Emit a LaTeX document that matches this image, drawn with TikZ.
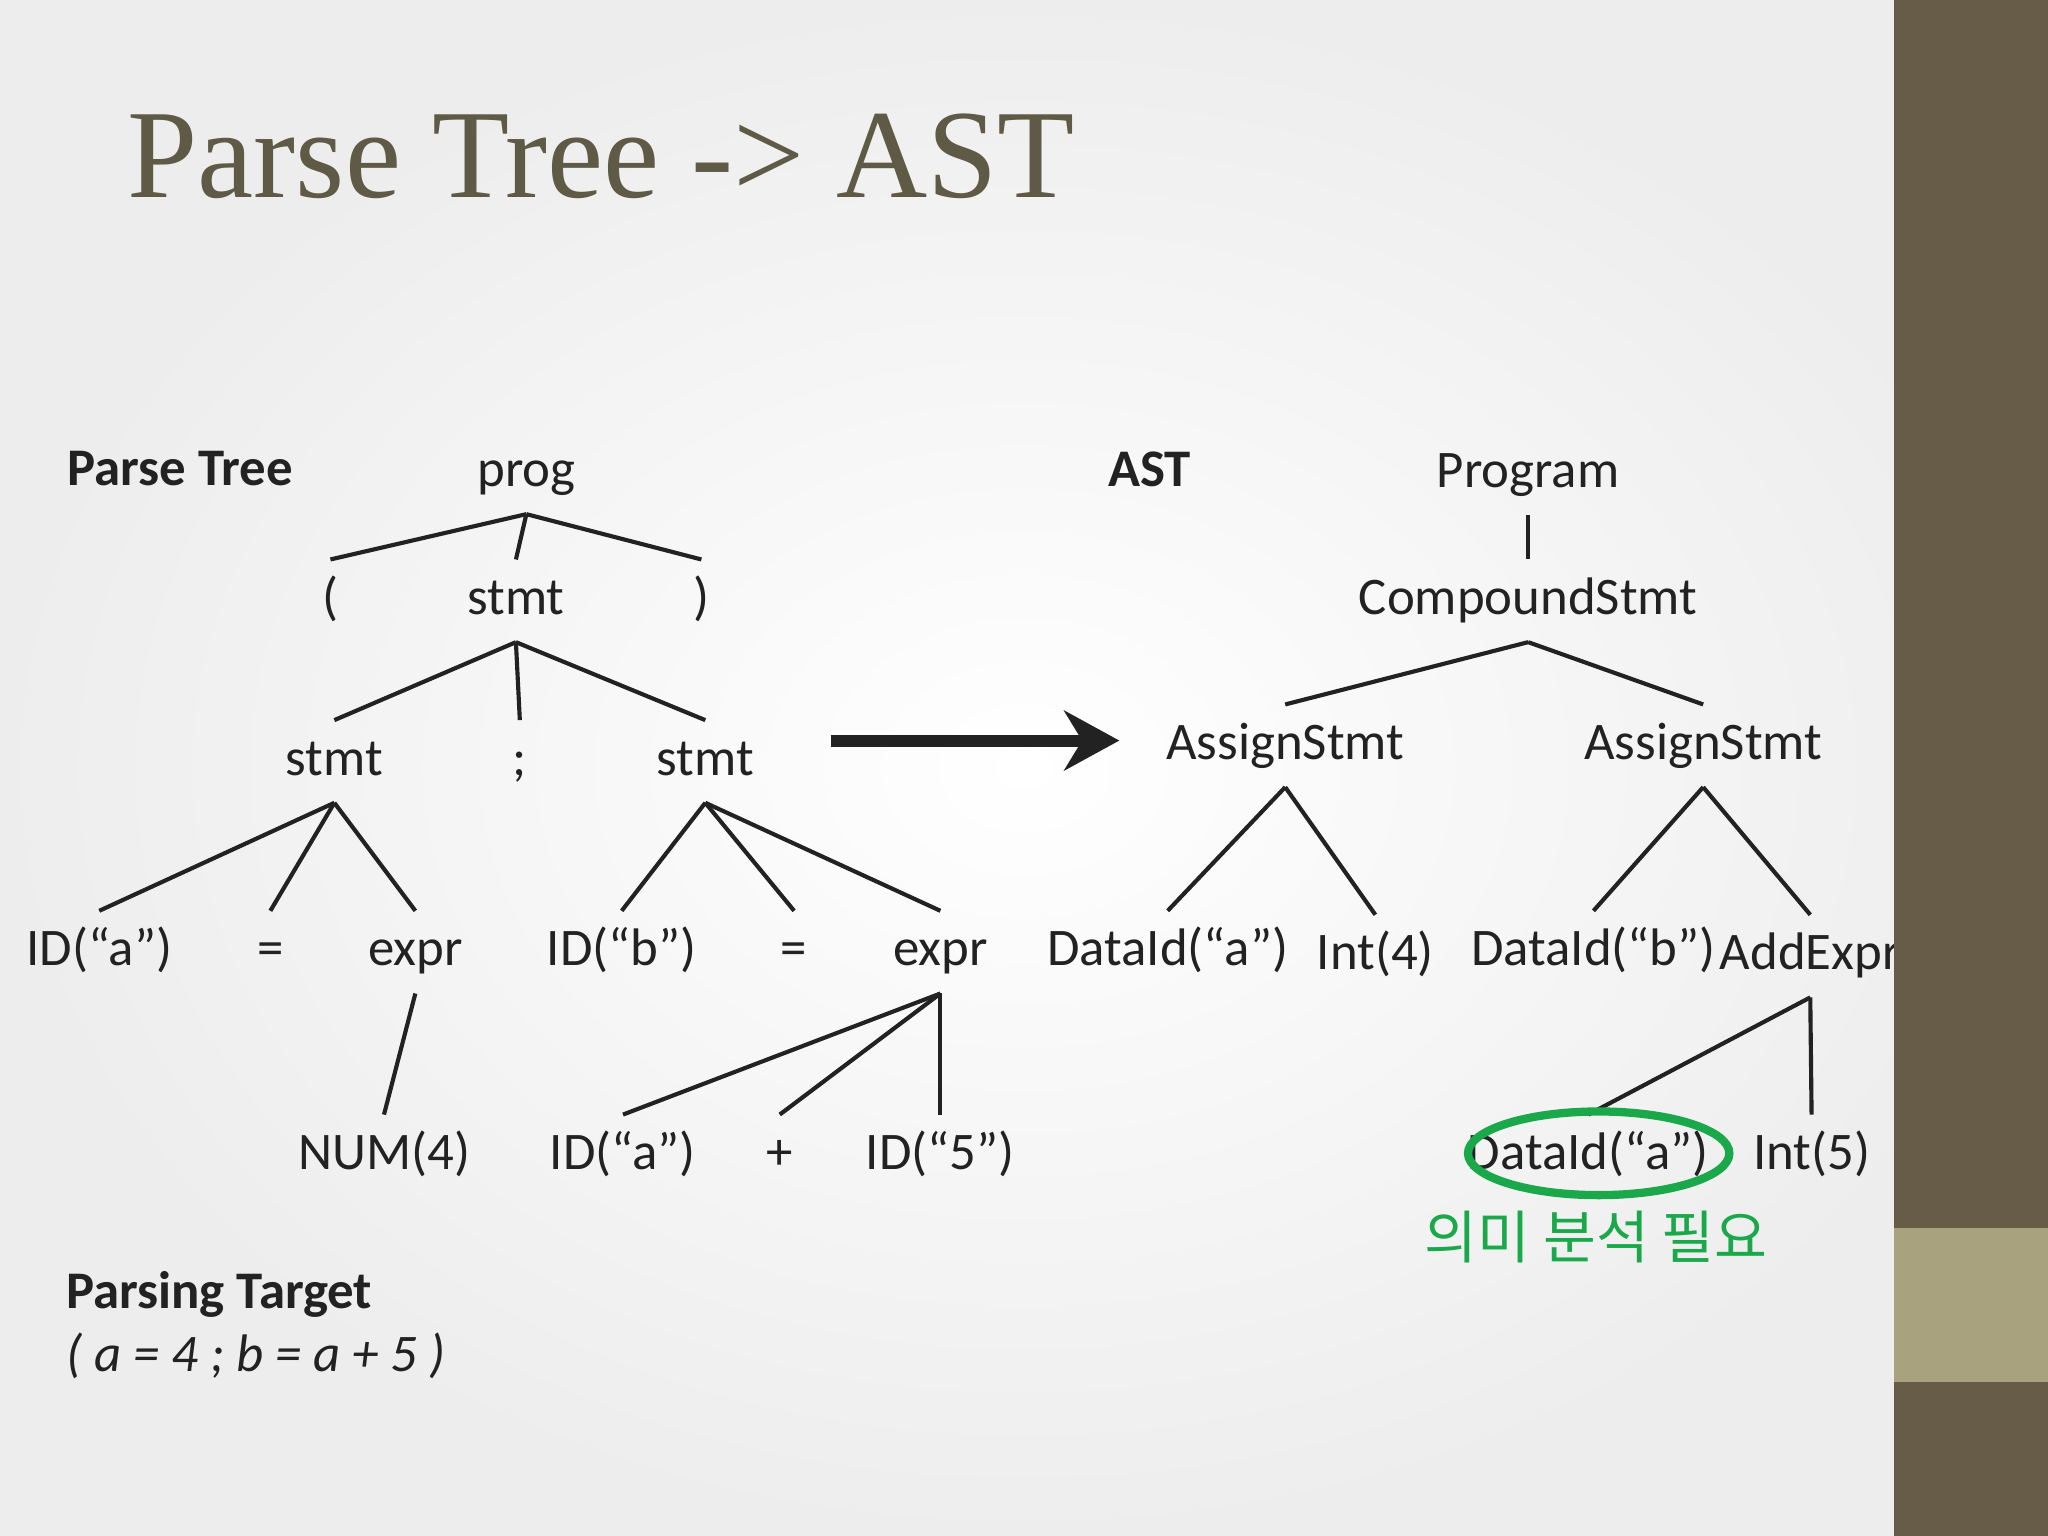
\documentclass[tikz,border=0pt]{standalone}
\usepackage{fontspec}
\setmainfont{Carlito}
\newfontfamily\titlefont{Liberation Serif}
\newfontfamily\krfont{Noto Sans CJK KR}
\usetikzlibrary{arrows.meta,shapes.geometric}
\definecolor{txt}{HTML}{222222}
\definecolor{olive}{HTML}{675C47}
\definecolor{oliveL}{HTML}{A9A27E}
\definecolor{titlec}{HTML}{5F5A45}
\definecolor{grn}{HTML}{1AA84A}
\tikzset{
  t/.style={inner xsep=1pt,inner ysep=3.3pt,text height=8.5pt,text depth=2.5pt,font=\fontsize{11.5}{14}\selectfont,text=txt},
  e/.style={draw=txt,line width=0.9pt},
  lbl/.style={font=\bfseries\fontsize{11.5}{14}\selectfont,text=txt}
}
\begin{document}
\begin{tikzpicture}[x=0.01cm,y=-0.01cm]
\useasboundingbox (0,0) rectangle (1568,1176);
\shade[inner color=white,outer color=black!7] (0,0) rectangle (1568,1176);
\node[font=\titlefont\fontsize{27.5}{32}\selectfont,text=titlec,anchor=west,inner sep=0pt] (title) at (97,120) {Parse Tree -> AST};
\node[lbl] (lpt) at (138,359) {Parse Tree};
\node[lbl] (last) at (880,359) {AST};
\node[lbl,anchor=west,inner sep=0pt] (ptg) at (50,991) {Parsing Target};
\node[font=\itshape\fontsize{11.5}{14}\selectfont,text=txt,anchor=west,inner sep=0pt] (ptx) at (50,1038) {( a = 4 ; b = a + 5 )};
% parse tree
\node[t] (prog) at (403,362) {prog};
\node[t] (lp) at (253,460) {(};
\node[t] (s0) at (395,460) {stmt};
\node[t] (rp) at (537,460) {)};
\node[t] (s1) at (256,583) {stmt};
\node[t] (sc) at (398,583) {;};
\node[t] (s2) at (540,583) {stmt};
\node[t] (ida) at (76,729) {ID(“a”)};
\node[t] (eq1) at (207,729) {=};
\node[t] (ex1) at (318,729) {expr};
\node[t] (idb) at (476,729) {ID(“b”)};
\node[t] (eq2) at (608,729) {=};
\node[t] (ex2) at (720,729) {expr};
\node[t] (num) at (294,885) {NUM(4)};
\node[t] (ida2) at (477,885) {ID(“a”)};
\node[t] (pl) at (597,885) {+};
\node[t] (id5) at (720,885) {ID(“5”)};
\foreach \p/\c in {prog/lp,prog/s0,prog/rp,s0/s1,s0/sc,s0/s2,s1/ida,s1/eq1,s1/ex1,s2/idb,s2/eq2,s2/ex2,ex1/num,ex2/ida2,ex2/pl,ex2/id5}
  \draw[e] (\p.south) -- (\c.north);
% AST
\node[t] (prg) at (1170,363) {Program};
\node[t] (cs) at (1170,460) {CompoundStmt};
\node[t] (as1) at (984,571) {AssignStmt};
\node[t] (as2) at (1304,571) {AssignStmt};
\node[t] (da) at (894,729) {DataId(“a”)};
\node[t] (i4) at (1053,732) {Int(4)};
\node[t] (db) at (1220,729) {DataId(“b”)};
\node[t] (ae) at (1386,732) {AddExpr};
\node[t] (da2) at (1216,885) {DataId(“a”)};
\node[t] (i5) at (1387,885) {Int(5)};
\foreach \p/\c in {prg/cs,cs/as1,cs/as2,as1/da,as1/i4,as2/db,as2/ae,ae/da2,ae/i5}
  \draw[e] (\p.south) -- (\c.north);
\node[draw=grn,line width=1.8pt,ellipse,minimum width=2cm,minimum height=0.64cm,inner sep=0pt] (circ) at (1224,883) {};
\node[font=\krfont\fontsize{12.5}{15}\selectfont,text=grn] (kr) at (1222,947) {의미 분석 필요};
% arrow
\coordinate (a1) at (636,567);
\coordinate (a2) at (857,567);
\draw[line width=2.6pt,-{Stealth[length=12pt,width=13pt]},draw=txt] (a1) -- (a2);
% side bar
\fill[olive] (1450,0) rectangle (1568,1176);
\fill[oliveL] (1450,940) rectangle (1568,1058);
\end{tikzpicture}
\end{document}
